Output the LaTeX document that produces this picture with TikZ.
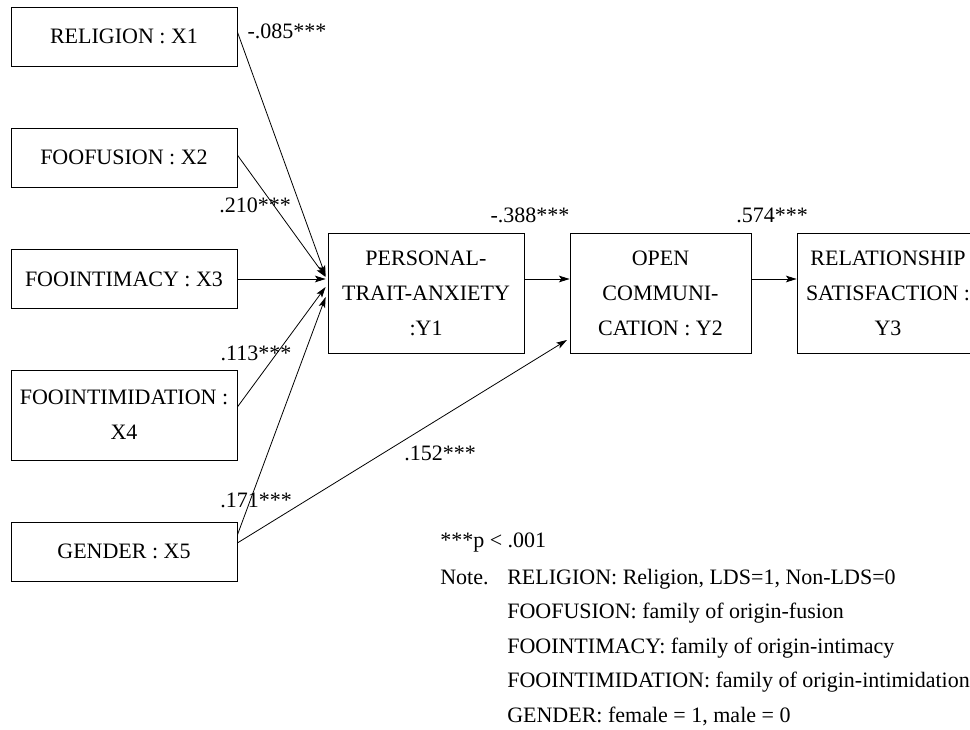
\documentclass[tikz,border=0pt]{standalone}
\usepackage{fontspec}
\setmainfont{Liberation Serif}
\usetikzlibrary{arrows.meta}
\begin{document}
\begin{tikzpicture}[x=0.75pt,y=-0.75pt,
  box/.style={draw, line width=0.6pt, rectangle, inner sep=0pt, align=center,
    font=\fontsize{16.5}{26.25}\selectfont},
  xbox/.style={box, minimum width=169.5pt, minimum height=44.25pt},
  ybox/.style={box, minimum height=90pt},
  conn/.style={line width=0.6pt, -{Stealth[length=8pt,width=5pt,inset=1.8pt]}},
  coef/.style={font=\fontsize{16.5}{19}\selectfont, inner sep=0pt},
  note/.style={font=\fontsize{16.5}{19}\selectfont, inner sep=0pt, anchor=base west}]
\clip (0,0) rectangle (970,730);
\fill[white] (0,0) rectangle (970,730);
% boxes
\node[xbox] (X1) at (124,36.5) {RELIGION : X1};
\node[xbox] (X2) at (124,157.5) {FOOFUSION : X2};
\node[xbox] (X3) at (124,279) {FOOINTIMACY : X3};
\node[xbox, minimum height=67.5pt] (X4) at (124,415) {FOOINTIMIDATION :\\X4};
\node[xbox] (X5) at (124,551.5) {GENDER : X5};
\node[ybox, minimum width=147pt] (Y1) at (426,293) {PERSONAL-\\TRAIT-ANXIETY\\:Y1};
\node[ybox, minimum width=135.75pt] (Y2) at (660.5,293) {OPEN\\COMMUNI-\\CATION : Y2};
\node[ybox, minimum width=136.5pt] (Y3) at (888,293) {RELATIONSHIP\\SATISFACTION :\\Y3};
% connectors
\draw[conn] ([yshift=3.4pt]X1.east) -- ([yshift=12.75pt,xshift=-1.5pt]Y1.west);
\draw[conn] ([yshift=1.8pt]X2.east) -- ([yshift=12pt,xshift=-1.5pt]Y1.west);
\draw[conn] (X3.east) -- ([yshift=10.5pt,xshift=-1.5pt]Y1.west);
\draw[conn] ([yshift=6pt]X4.east) -- ([yshift=4.5pt,xshift=-1.5pt]Y1.west);
\draw[conn] ([yshift=12.4pt]X5.east) -- ([yshift=-3pt,xshift=-1.5pt]Y1.west);
\draw[conn] ([yshift=6.4pt]X5.east) -- ([yshift=-35.25pt,xshift=-2pt]Y2.west);
\draw[conn] ([yshift=10.5pt]Y1.east) -- ([yshift=10.5pt]Y2.west);
\draw[conn] ([yshift=10.5pt]Y2.east) -- ([yshift=10.5pt]Y3.west);
% coefficients
\node[coef] (c1) at (287,31) {-.085***};
\node[coef] (c2) at (255,205) {.210***};
\node[coef] (c4) at (256,353) {.113***};
\node[coef] (c5) at (256,500) {.171***};
\node[coef] (c6) at (440,453) {.152***};
\node[coef] (c7) at (530,215) {-.388***};
\node[coef] (c8) at (772,215) {.574***};
% notes
\node[note] (p) at (440,547) {***p < .001};
\node[note] (n0) at (440,584) {Note.};
\node[note] (n1) at (507,584) {RELIGION: Religion, LDS=1, Non-LDS=0};
\node[note] (n2) at (507,618.5) {FOOFUSION: family of origin-fusion};
\node[note] (n3) at (507,653) {FOOINTIMACY: family of origin-intimacy};
\node[note] (n4) at (507,687.5) {FOOINTIMIDATION: family of origin-intimidation};
\node[note] (n5) at (507,722) {GENDER: female = 1, male = 0};
\end{tikzpicture}
\end{document}
